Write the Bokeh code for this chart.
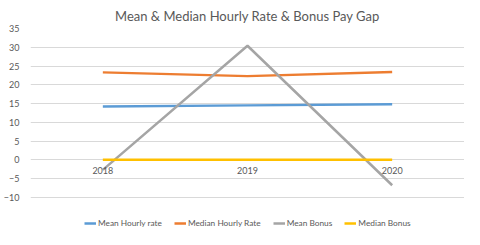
from bokeh.plotting import figure
from bokeh.models import Legend, LegendItem, FixedTicker, ColumnDataSource
from bokeh.core.properties import value
from bokeh.embed import file_html
from bokeh.resources import INLINE

years = ["2018", "2019", "2020"]
mean_hourly = [14.2, 14.5, 14.8]
median_hourly = [23.3, 22.3, 23.4]
mean_bonus = [-2.7, 30.4, -6.8]
median_bonus = [0, 0, 0]
axis_base = [0, 0, 0]
y_ticks = [-10, -5, 0, 5, 10, 15, 20, 25, 30, 35]

FONT = "Lato"
TXT = "#595959"

p = figure(width=464, height=229, x_range=years, y_range=(-18.6, 35),
           output_backend="svg", toolbar_location=None, x_axis_location=None,
           min_border_left=19, min_border_right=0, min_border_top=0, min_border_bottom=0)
p.x_range.range_padding = 0
p.title.text = "Mean & Median Hourly Rate & Bonus Pay Gap"
p.title.align = "center"
p.title.text_font = FONT
p.title.text_font_size = "13px"
p.title.text_font_style = "normal"
p.title.text_color = TXT
p.title.standoff = 9.5
p.outline_line_color = None

p.xgrid.visible = False
p.ygrid.grid_line_color = "#d9d9d9"
p.yaxis.ticker = FixedTicker(ticks=y_ticks)
p.yaxis.axis_line_color = None
p.yaxis.major_tick_line_color = None
p.yaxis.minor_tick_line_color = None
p.yaxis.major_label_text_font = FONT
p.yaxis.major_label_text_font_size = "9px"
p.yaxis.major_label_text_color = TXT
p.yaxis.major_label_standoff = 5

r1 = p.line(years, mean_hourly, line_color="#5B9BD5", line_width=2.5)
r2 = p.line(years, median_hourly, line_color="#ED7D31", line_width=2.5)
r3 = p.line(years, mean_bonus, line_color="#A5A5A5", line_width=2.5)
r4 = p.line(years, median_bonus, line_color="#FFC000", line_width=2.5)

src = ColumnDataSource(dict(x=years, y=axis_base, t=years))
p.text(x="x", y="y", text="t", source=src, text_font=value(FONT), text_font_size="9px",
       text_color=TXT, text_align="center", text_baseline="top", y_offset=7)

legend = Legend(items=[
    LegendItem(label="Mean Hourly rate", renderers=[r1]),
    LegendItem(label="Median Hourly Rate", renderers=[r2]),
    LegendItem(label="Mean Bonus", renderers=[r3]),
    LegendItem(label="Median Bonus", renderers=[r4]),
], orientation="horizontal", location=(54, 1))
legend.label_text_font = FONT
legend.label_text_font_size = "8.3px"
legend.label_text_color = TXT
legend.glyph_width = 12
legend.glyph_height = 10
legend.label_standoff = 2
legend.spacing = 12
legend.border_line_color = None
legend.background_fill_alpha = 0
legend.padding = 0
legend.margin = 0
p.add_layout(legend)

open("out.html", "w").write(file_html(p, INLINE))
